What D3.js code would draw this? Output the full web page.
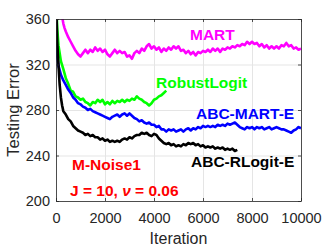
<!DOCTYPE html>
<html><head><meta charset="utf-8">
<script src="https://cdn.jsdelivr.net/npm/d3@7"></script>
<style>
body{margin:0;background:#fff;}
text{font-family:"Liberation Sans",Arial,sans-serif;}
</style></head>
<body><svg id="c" width="332" height="249"></svg>
<script>
const xTicks=[0,2000,4000,6000,8000,10000];
const yTicks=[200,240,280,320,360];
const mart=[[200,372],[250,362],[300,356],[350,352],[400,349],[500,344],[600,340],[700,336],[800,332],[900,329],[1000,327],[1100,330],[1200,333],[1300,330],[1400,333],[1500,331],[1600,335],[1700,332],[1800,334],[1900,331],[2000,333],[2100,329],[2200,327],[2300,330],[2400,333],[2500,330],[2600,332],[2700,330],[2800,331],[2900,327],[3000,328],[3100,325],[3200,330],[3300,332],[3400,330],[3500,334],[3600,332],[3700,336],[3800,338],[3900,334],[4000,336],[4100,333],[4200,335],[4300,331],[4400,334],[4500,332],[4600,335],[4700,333],[4800,336],[4900,334],[5000,336],[5100,332],[5200,333],[5300,330],[5400,332],[5500,329],[5600,331],[5700,328],[5800,331],[5900,330],[6000,332],[6100,331],[6200,333],[6300,331],[6400,334],[6500,332],[6600,334],[6700,331],[6800,334],[6900,333],[7000,335],[7100,334],[7200,336],[7300,335],[7400,337],[7500,336],[7600,338],[7700,337],[7800,340],[7900,338],[8000,340],[8100,338],[8200,339],[8300,336],[8400,338],[8500,335],[8600,337],[8700,334],[8800,336],[8900,334],[9000,336],[9100,334],[9200,337],[9300,336],[9400,339],[9500,336],[9600,337],[9700,334],[9800,335],[9900,333],[10000,334]];
const robust=[[0,380],[50,352],[100,337],[150,330],[200,323],[300,316],[400,308],[500,303],[600,297],[700,296],[800,292],[900,291],[1000,289],[1100,290],[1200,287],[1300,286],[1400,284],[1500,287],[1600,286],[1700,289],[1800,287],[1900,289],[2000,285],[2100,287],[2200,285],[2300,288],[2400,286],[2500,288],[2600,287],[2700,289],[2800,287],[2900,289],[3000,288],[3100,290],[3200,289],[3300,292],[3400,290],[3500,289],[3600,287],[3700,286],[3800,284],[3900,286],[4000,289],[4100,290],[4200,292],[4300,293],[4400,295],[4500,297]];
const abcMart=[[0,350],[30,330],[100,319],[150,315],[200,311],[300,306],[400,302],[500,298],[600,295],[700,291],[800,289],[900,286],[1000,285],[1100,283],[1200,282],[1300,280],[1400,281],[1500,279],[1600,278],[1700,277],[1800,276],[1900,275],[2000,274],[2100,273],[2200,272],[2300,274],[2400,275],[2500,276],[2600,274],[2700,276],[2800,277],[2900,275],[3000,277],[3100,275],[3200,273],[3300,272],[3400,270],[3500,271],[3600,269],[3700,268],[3800,269],[3900,267],[4000,267],[4100,265],[4200,266],[4300,263],[4400,263],[4500,261],[4600,263],[4700,262],[4800,263],[4900,261],[5000,262],[5100,263],[5200,261],[5300,263],[5400,264],[5500,262],[5600,264],[5700,263],[5800,265],[5900,264],[6000,266],[6100,265],[6200,266],[6300,265],[6400,266],[6500,265],[6600,267],[6700,266],[6800,267],[6900,266],[7000,268],[7100,267],[7200,268],[7300,269],[7400,267],[7500,265],[7600,264],[7700,263],[7800,265],[7900,264],[8000,265],[8100,263],[8200,265],[8300,264],[8400,265],[8500,263],[8600,264],[8700,265],[8800,263],[8900,264],[9000,265],[9100,264],[9200,263],[9300,263],[9400,262],[9500,261],[9600,260],[9700,262],[9800,263],[9900,265],[10000,264]];
const abcRlogit=[[0,380],[50,340],[100,320],[150,302],[200,291],[250,284],[300,279],[400,276],[500,272],[600,270],[700,266],[800,264],[900,262],[1000,261],[1100,260],[1200,258],[1300,259],[1400,257],[1500,258],[1600,256],[1700,256],[1800,254],[1900,255],[2000,253],[2100,254],[2200,252],[2300,253],[2400,252],[2500,253],[2600,252],[2700,254],[2800,255],[2900,254],[3000,256],[3100,255],[3200,257],[3300,258],[3400,258],[3500,260],[3600,259],[3700,260],[3800,258],[3900,257],[4000,259],[4100,258],[4200,255],[4300,253],[4400,251],[4500,250],[4600,251],[4700,249],[4800,250],[4900,248],[5000,249],[5100,248],[5200,250],[5300,249],[5400,251],[5500,250],[5600,251],[5700,249],[5800,250],[5900,248],[6000,249],[6100,247],[6200,248],[6300,247],[6400,248],[6500,246],[6600,247],[6700,246],[6800,247],[6900,245],[7000,246],[7100,245],[7200,246],[7300,244],[7400,245]];
const seriesNames=["MART","RobustLogit","ABC-MART-E","ABC-RLogit-E"];
const seriesColors=["#ff00ff","#00ff00","#0000ff","#000000"];

const svg=d3.select("#c");
const L=56,R=301,T=19,B=201;
const x=d3.scaleLinear().domain([0,10000]).range([L,R]);
const y=d3.scaleLinear().domain([200,360]).range([B,T]);
const tc="#262626";

const g=svg.append("g");
g.selectAll(".gx").data(xTicks).enter().append("line")
 .attr("x1",d=>x(d)+0.5).attr("x2",d=>x(d)+0.5).attr("y1",T).attr("y2",B).attr("stroke","#e5e5e5").attr("stroke-width",1);
g.selectAll(".gy").data(yTicks).enter().append("line")
 .attr("y1",d=>y(d)+0.5).attr("y2",d=>y(d)+0.5).attr("x1",L).attr("x2",R).attr("stroke","#e5e5e5").attr("stroke-width",1);

svg.append("clipPath").attr("id","clip").append("rect").attr("x",L).attr("y",T).attr("width",R-L).attr("height",B-T);
const line=d3.line().x(d=>x(d[0])).y(d=>y(d[1]));
const all=[mart,robust,abcMart,abcRlogit];
svg.append("g").attr("clip-path","url(#clip)").selectAll("path").data(all).enter().append("path")
 .attr("d",line).attr("fill","none").attr("stroke",(d,i)=>seriesColors[i]).attr("stroke-width",2.6).attr("stroke-linejoin","round");

function style(a){a.select(".domain").attr("stroke",tc).attr("stroke-width",0.8);a.selectAll(".tick line").attr("stroke",tc).attr("stroke-width",0.8);a.selectAll("text").attr("fill",tc).attr("font-size","14.5px").attr("font-family","Liberation Sans, Arial, sans-serif");}
svg.append("g").attr("transform",`translate(0,${B})`).call(d3.axisBottom(x).tickValues(xTicks).tickFormat(d3.format("d")).tickSizeInner(-3).tickSizeOuter(0).tickPadding(12)).call(style);
svg.append("g").attr("transform",`translate(${L},0)`).call(d3.axisLeft(y).tickValues(yTicks).tickSizeInner(-3).tickSizeOuter(0).tickPadding(6)).call(style);
svg.append("g").attr("transform",`translate(0,${T})`).call(d3.axisTop(x).tickValues(xTicks).tickFormat("").tickSizeInner(-3).tickSizeOuter(0)).call(style);
svg.append("g").attr("transform",`translate(${R},0)`).call(d3.axisRight(y).tickValues(yTicks).tickFormat("").tickSizeInner(-3).tickSizeOuter(0)).call(style);

svg.append("text").attr("x",(L+R)/2).attr("y",244).attr("text-anchor","middle").attr("font-size","16px").attr("fill",tc).text("Iteration");
svg.append("text").attr("transform","translate(19,110) rotate(-90)").attr("text-anchor","middle").attr("font-size","16.5px").attr("fill",tc).text("Testing Error");

const lab=[[190,39.5,0],[156,88,1],[196,118.5,2],[191,166.5,3]];
lab.forEach(l=>svg.append("text").attr("x",l[0]).attr("y",l[1]).attr("font-size","15.5px").attr("font-weight","bold").attr("fill",seriesColors[l[2]]).text(seriesNames[l[2]]));
svg.append("text").attr("x",72).attr("y",170).attr("font-size","15.5px").attr("font-weight","bold").attr("fill","#ff0000").text("M-Noise1");
const t2=svg.append("text").attr("x",70).attr("y",196).attr("font-size","15.5px").attr("font-weight","bold").attr("fill","#ff0000");
t2.append("tspan").text("J = 10, ");
t2.append("tspan").attr("font-style","italic").text("ν");
t2.append("tspan").text(" = 0.06");
</script></body></html>
